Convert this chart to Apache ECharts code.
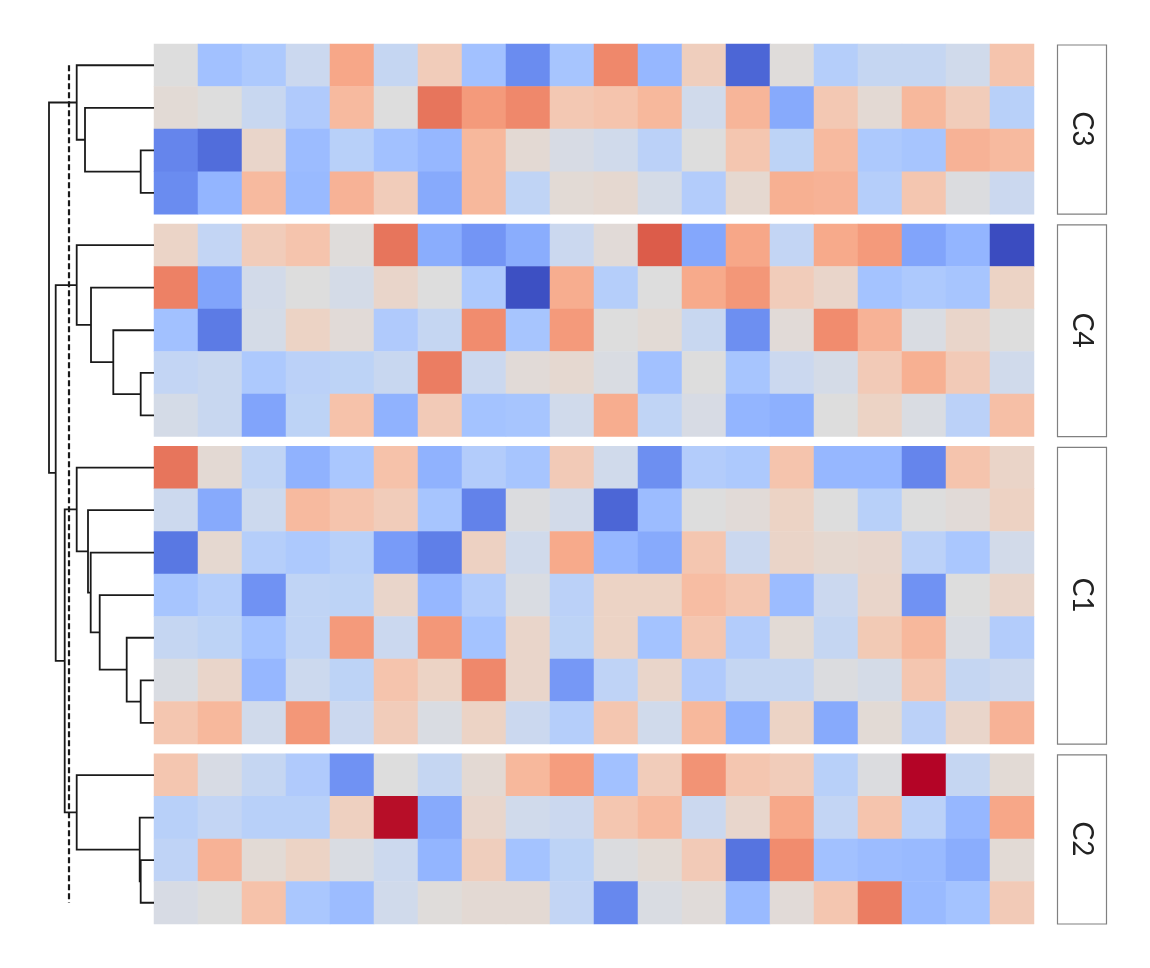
<!DOCTYPE html>
<html>
<head>
<meta charset="utf-8">
<script src="https://cdn.jsdelivr.net/npm/echarts@6/dist/echarts.min.js"></script>
<style>
html, body { margin: 0; padding: 0; background: #fff; }
#main { width: 1150px; height: 968px; }
</style>
</head>
<body>
<div id="main"></div>
<script>
// row groups, top to bottom
var groups = ['C3', 'C4', 'C1', 'C2'];
var groupRows = [4, 5, 7, 4];
var columns = [];
for (var c = 1; c <= 20; c++) columns.push('col' + c);

// cell values (z-score like, -3 .. 3), one array per group, rows top to bottom
var valsC3 = [
	[0.0, -1.15, -0.95, -0.4, 1.3, -0.5, 0.55, -1.15, -2.1, -1.05, 1.75, -1.35, 0.5, -2.65, 0.05, -0.8, -0.5, -0.5, -0.3, 0.75],
	[0.12, 0.0, -0.45, -0.9, 0.95, 0.0, 2.0, 1.5, 1.75, 0.65, 0.75, 1.0, -0.3, 1.05, -1.6, 0.65, 0.15, 1.0, 0.55, -0.75],
	[-2.2, -2.55, 0.3, -1.25, -0.75, -1.15, -1.35, 1.0, 0.15, -0.15, -0.3, -0.7, 0.0, 0.7, -0.65, 0.95, -0.95, -1.05, 1.1, 0.95],
	[-2.1, -1.4, 0.95, -1.3, 1.1, 0.55, -1.6, 1.0, -0.6, 0.12, 0.2, -0.2, -0.85, 0.2, 1.15, 1.1, -0.8, 0.7, -0.05, -0.4]
];
var valsC4 = [
	[0.35, -0.55, 0.55, 0.75, 0.05, 2.0, -1.55, -1.95, -1.55, -0.4, 0.1, 2.3, -1.65, 1.3, -0.55, 1.25, 1.5, -1.7, -1.4, -3.0],
	[1.85, -1.7, -0.25, 0.0, -0.2, 0.3, 0.0, -0.95, -2.95, 1.2, -0.8, 0.0, 1.25, 1.55, 0.55, 0.3, -1.1, -0.95, -1.05, 0.37],
	[-1.15, -2.35, -0.2, 0.37, 0.1, -0.9, -0.5, 1.7, -1.05, 1.5, 0.0, 0.12, -0.45, -2.05, 0.1, 1.7, 1.1, -0.1, 0.3, 0.0],
	[-0.55, -0.45, -0.95, -0.7, -0.65, -0.45, 1.9, -0.4, 0.1, 0.2, -0.1, -1.15, 0.0, -1.05, -0.4, -0.2, 0.6, 1.15, 0.6, -0.3],
	[-0.2, -0.45, -1.7, -0.65, 0.8, -1.45, 0.6, -1.1, -1.05, -0.3, 1.2, -0.6, -0.15, -1.4, -1.5, 0.0, 0.37, -0.1, -0.7, 0.85]
];
var valsC1 = [
	[2.0, 0.15, -0.6, -1.45, -1.0, 0.8, -1.45, -0.85, -1.05, 0.6, -0.3, -2.05, -0.85, -0.95, 0.75, -1.35, -1.35, -2.2, 0.75, 0.33],
	[-0.38, -1.6, -0.38, 0.95, 0.75, 0.55, -1.05, -2.25, -0.05, -0.25, -2.65, -1.25, 0.0, 0.1, 0.37, 0.0, -0.75, 0.0, 0.1, 0.4],
	[-2.4, 0.2, -0.8, -0.95, -0.75, -1.85, -2.3, 0.42, -0.3, 1.25, -1.35, -1.6, 0.7, -0.4, 0.33, 0.2, 0.25, -0.7, -1.0, -0.25],
	[-1.05, -0.8, -2.0, -0.6, -0.65, 0.3, -1.35, -0.85, -0.1, -0.7, 0.37, 0.37, 0.9, 0.7, -1.25, -0.4, 0.3, -2.0, 0.0, 0.3],
	[-0.5, -0.65, -1.1, -0.6, 1.5, -0.4, 1.55, -1.1, 0.3, -0.65, 0.37, -1.1, 0.7, -0.85, 0.12, -0.5, 0.62, 1.0, -0.1, -0.85],
	[-0.1, 0.3, -1.35, -0.38, -0.65, 0.75, 0.37, 1.75, 0.3, -1.9, -0.62, 0.3, -0.9, -0.5, -0.5, -0.05, -0.2, 0.7, -0.5, -0.4],
	[0.7, 1.0, -0.3, 1.55, -0.4, 0.55, -0.1, 0.37, -0.4, -0.8, 0.7, -0.3, 1.0, -1.45, 0.37, -1.6, 0.12, -0.7, 0.3, 1.1]
];
var valsC2 = [
	[0.7, -0.15, -0.5, -0.9, -2.0, 0.0, -0.5, 0.15, 1.0, 1.45, -1.15, 0.55, 1.6, 0.7, 0.55, -0.75, -0.05, 3.0, -0.5, 0.12],
	[-0.75, -0.55, -0.75, -0.75, 0.45, 2.95, -1.6, 0.27, -0.3, -0.4, 0.7, 0.95, -0.4, 0.27, 1.28, -0.55, 0.75, -0.7, -1.35, 1.3],
	[-0.62, 1.1, 0.12, 0.37, -0.1, -0.38, -1.4, 0.5, -1.1, -0.65, -0.05, 0.12, 0.6, -2.45, 1.7, -1.15, -1.25, -1.3, -1.55, 0.12],
	[-0.15, 0.0, 0.8, -1.0, -1.25, -0.3, 0.05, 0.15, 0.15, -0.55, -2.15, -0.1, 0.07, -1.3, 0.1, 0.7, 1.9, -1.3, -1.1, 0.6]
];
var groupVals = [valsC3, valsC4, valsC1, valsC2];

// row dendrogram: [left, right, height]; leaves 0..19 in display order, merged nodes numbered from 20
var linkage = [
	[2, 3, 1.33], [1, 20, 6.9], [0, 21, 7.73],
	[7, 8, 1.33], [6, 23, 4.07], [5, 24, 6.3], [4, 25, 7.73],
	[14, 15, 1.33], [13, 27, 2.73], [12, 28, 5.43], [11, 29, 6.33], [10, 30, 6.6], [9, 31, 7.73],
	[18, 19, 1.33], [17, 33, 1.43], [16, 34, 7.73],
	[32, 35, 8.93], [26, 36, 9.83], [22, 37, 10.5]
];
var cutHeight = 8.5;

var coolwarm = ['#3b4cc0', '#445acc', '#4d68d7', '#5775e1', '#6282ea', '#6c8ef1', '#779af7', '#82a5fb',
	'#8db0fe', '#98b9ff', '#a3c2ff', '#aec9fd', '#b8d0f9', '#c2d5f4', '#ccd9ee', '#d5dbe6', '#dddddd',
	'#e5d8d1', '#ecd3c5', '#f1ccb9', '#f5c4ad', '#f7bba0', '#f7b194', '#f7a687', '#f49a7b', '#f18d6f',
	'#ec7f63', '#e57058', '#de604d', '#d55042', '#cb3e38', '#c0282f', '#b40426'];

// layout
var TOP = 44, BOTTOM = 924, LEFT = 154, RIGHT = 1034;
var GAP = 0.228;	// gap between groups, in rows
var totalUnits = 0;
groupRows.forEach(function (n) { totalUnits += n; });
totalUnits += GAP * (groups.length - 1);
var rowPx = (BOTTOM - TOP) / totalUnits;

var groupStart = [];
var leafPos = [];
var u = 0;
groups.forEach(function (g, i) {
	groupStart.push(u);
	for (var r = 0; r < groupRows[i]; r++) leafPos.push(u + r + 0.5);
	u += groupRows[i] + GAP;
});

// dendrogram node positions
var nodeY = leafPos.slice();
var nodeH = leafPos.map(function () { return 0; });
var links = [];
linkage.forEach(function (m) {
	var a = m[0], b = m[1];
	links.push([nodeH[a], nodeY[a], m[2], nodeH[b], nodeY[b]]);
	nodeY.push((nodeY[a] + nodeY[b]) / 2);
	nodeH.push(m[2]);
});

var grids = [], xAxes = [], yAxes = [], series = [], graphics = [];
groups.forEach(function (g, i) {
	grids.push({
		left: LEFT, width: RIGHT - LEFT,
		top: TOP + groupStart[i] * rowPx, height: groupRows[i] * rowPx
	});
	xAxes.push({ type: 'category', gridIndex: i, data: columns, show: false });
	var rows = [];
	for (var r = 0; r < groupRows[i]; r++) rows.push(g + '_' + (r + 1));
	yAxes.push({ type: 'category', gridIndex: i, data: rows, inverse: true, show: false });
	var data = [];
	groupVals[i].forEach(function (row, ri) {
		row.forEach(function (v, ci) { data.push([ci, ri, v]); });
	});
	series.push({
		type: 'heatmap', name: g, xAxisIndex: i, yAxisIndex: i, data: data,
		itemStyle: { borderWidth: 0 }, emphasis: { disabled: true }, silent: true
	});

	var y0 = TOP + groupStart[i] * rowPx;
	var h = groupRows[i] * rowPx;
	graphics.push({
		type: 'rect', shape: { x: 1057.5, y: y0 + 1, width: 49, height: h - 1 },
		style: { fill: '#fff', stroke: '#808080', lineWidth: 1.2 }, silent: true
	});
	graphics.push({
		type: 'text', x: 1082, y: y0 + h / 2, rotation: -Math.PI / 2,
		style: {
			text: g, font: '28px Lato', fill: '#222',
			align: 'center', verticalAlign: 'middle'
		}, silent: true
	});
});

// dendrogram grid
var dg = groups.length;
grids.push({ left: 49, width: LEFT - 49, top: TOP, height: BOTTOM - TOP });
xAxes.push({ type: 'value', gridIndex: dg, min: 0, max: 10.5, inverse: true, show: false });
yAxes.push({ type: 'value', gridIndex: dg, min: 0, max: totalUnits, inverse: true, show: false });

series.push({
	type: 'custom', xAxisIndex: dg, yAxisIndex: dg, data: links, silent: true,
	encode: { x: [0, 2, 3], y: [1, 4] },
	renderItem: function (params, api) {
		var p1 = api.coord([api.value(0), api.value(1)]);
		var p2 = api.coord([api.value(2), api.value(1)]);
		var p3 = api.coord([api.value(2), api.value(4)]);
		var p4 = api.coord([api.value(3), api.value(4)]);
		return {
			type: 'polyline', shape: { points: [p1, p2, p3, p4] },
			style: { stroke: '#1a1a1a', lineWidth: 1.8, fill: null }
		};
	}
});
// cut line
series.push({
	type: 'custom', xAxisIndex: dg, yAxisIndex: dg, silent: true,
	data: [[cutHeight, leafPos[0], leafPos[leafPos.length - 1]]],
	encode: { x: 0, y: [1, 2] },
	renderItem: function (params, api) {
		var a = api.coord([api.value(0), api.value(1)]);
		var b = api.coord([api.value(0), api.value(2)]);
		return {
			type: 'line', shape: { x1: a[0], y1: a[1], x2: b[0], y2: b[1] },
			style: { stroke: '#1a1a1a', lineWidth: 2.2, lineDash: [6, 3] }
		};
	}
});

var chart = echarts.init(document.getElementById('main'));
chart.setOption({
	animation: false,
	backgroundColor: '#fff',
	grid: grids,
	xAxis: xAxes,
	yAxis: yAxes,
	visualMap: {
		show: false, type: 'continuous', min: -3, max: 3,
		seriesIndex: [0, 1, 2, 3],
		inRange: { color: coolwarm }
	},
	graphic: graphics,
	series: series
});
</script>
</body>
</html>
